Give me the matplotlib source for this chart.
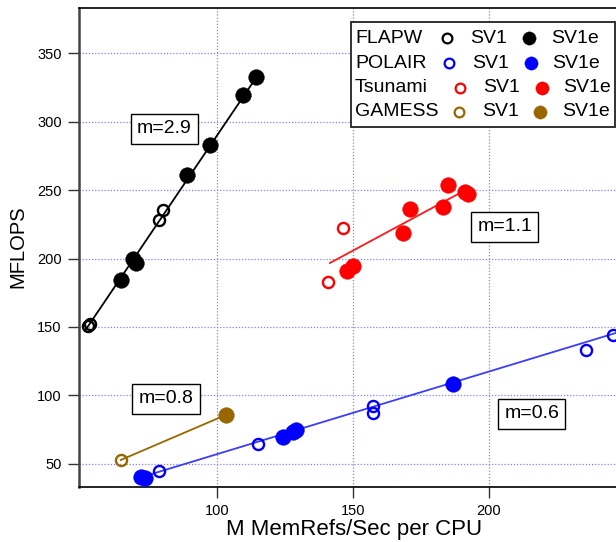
import matplotlib
matplotlib.use("Agg")
import matplotlib.pyplot as plt
import numpy as np
from matplotlib.patches import Rectangle

plt.rcParams['font.family'] = ['Liberation Sans', 'DejaVu Sans']

# Data
programs = ['FLAPW', 'POLAIR', 'Tsunami', 'GAMESS']
colors = ['#000000', '#0000ff', '#ff0000', '#996600']
line_colors = ['#000000', '#3c3cff', '#ff1a1a', '#996600']

sv1_x = [[52.7, 53.3, 78.8, 80.3],
         [78.8, 115.0, 157.5, 157.5, 235.5, 245.7],
         [146.4, 140.9],
         [64.6]]
sv1_y = [[150.8, 152.0, 227.9, 235.2],
         [44.9, 64.2, 92.5, 87.3, 133.2, 144.2],
         [222.3, 182.5],
         [52.7]]
sv1e_x = [[64.7, 69.2, 70.2, 89.1, 97.4, 109.4, 114.4],
          [72.2, 73.6, 124.4, 128.0, 129.2, 186.9],
          [147.7, 150.1, 168.5, 171.0, 183.2, 185.0, 191.2, 192.3],
          [103.2]]
sv1e_y = [[184.5, 199.5, 197.0, 260.8, 282.8, 319.7, 332.4],
          [40.3, 39.8, 69.8, 73.2, 74.4, 108.1],
          [190.6, 194.2, 218.7, 236.5, 237.7, 253.5, 248.4, 247.5],
          [85.6]]

# straight-line fits: slope, intercept and x span of each line
fit_slope = [2.94, 0.604, 1.07, 0.852]
fit_icept = [-4.1, -3.4, 45.3, -2.3]
fit_x0 = [51.5, 72.4, 141.5, 64.6]
fit_x1 = [114.4, 250.0, 190.0, 103.2]

# slope labels
slope_text = ['m=2.9', 'm=0.6', 'm=1.1', 'm=0.8']
slope_tx = [80.7, 215.7, 205.8, 81.3]
slope_ty = [294.7, 86.5, 223.1, 97.4]

x_ticks = [100, 150, 200]
y_ticks = [50, 100, 150, 200, 250, 300, 350]
x_label = 'M MemRefs/Sec per CPU'
y_label = 'MFLOPS'

W, H = 616, 542
fig = plt.figure(figsize=(W / 100, H / 100), dpi=100)
ax = fig.add_axes([79 / W, 1 - 487 / H, 1 - 79 / W, (487 - 8) / H])
ax.set_xlim(49.26, 246.7)
ax.set_ylim(33.0, 383.1)

# grid
for xv in x_ticks:
    ax.axvline(xv, color='#8080ff', lw=0.9, ls=(0, (1, 1.5)), zorder=0)
for yv in y_ticks:
    ax.axhline(yv, color='#8080ff', lw=0.9, ls=(0, (1, 1.5)), zorder=0)

for i in range(len(programs)):
    xs = np.array([fit_x0[i], fit_x1[i]])
    ax.plot(xs, fit_slope[i] * xs + fit_icept[i], color=line_colors[i],
            lw=1.3, zorder=2)
    ax.plot(sv1_x[i], sv1_y[i], 'o', ms=8, mfc='none', mec=colors[i],
            mew=1.7, zorder=3)
    ax.plot(sv1e_x[i], sv1e_y[i], 'o', ms=11.3, mfc=colors[i],
            mec=colors[i], mew=0.3, zorder=4)

for t, tx, ty in zip(slope_text, slope_tx, slope_ty):
    ax.text(tx, ty, t, ha='center', va='center', fontsize=14, zorder=6,
            bbox=dict(boxstyle='square,pad=0.32', fc='white', ec='black',
                      lw=1.0))

ax.set_xticks(x_ticks)
ax.set_yticks(y_ticks)
ax.tick_params(direction='out', length=8, width=1, labelsize=10.5,
               color='#333333')
ax.tick_params(axis='x', pad=4.5)
ax.tick_params(axis='y', pad=4.5)
ax.spines['right'].set_visible(False)
ax.spines['top'].set_linewidth(1.2)
ax.spines['left'].set_linewidth(1.8)
ax.spines['left'].set_color('#444444')
ax.spines['bottom'].set_linewidth(1.2)

fig.text(18 / W, 1 - 247 / H, y_label, rotation=90, ha='center',
         va='center', fontsize=14.5)
fig.text(354 / W, 1 - 529.5 / H, x_label, ha='center', va='center',
         fontsize=16)

# legend drawn by hand (figure pixel positions)
fig.patches.append(Rectangle((350.7 / W, 1 - 127.3 / H), (615.3 - 350.7) / W,
                             (127.3 - 21.7) / H, transform=fig.transFigure,
                             fc='white', ec='#222222', lw=1.3, zorder=10))
row_y = [38.3, 63.0, 87.5, 111.8]
open_px = [447.3, 449.0, 460.0, 459.0]
sv1_px = [470.0, 471.7, 482.7, 481.7]
fill_px = [529.3, 530.7, 541.7, 540.0]
sv1e_px = [550.7, 552.3, 563.3, 561.7]
for i, name in enumerate(programs):
    yy = 1 - row_y[i] / H
    fig.text(355 / W, yy, name, ha='left', va='center', fontsize=14,
             zorder=11)
    fig.lines.append(plt.Line2D([open_px[i] / W], [yy], marker='o', ms=7,
                                mfc='none', mec=colors[i], mew=1.6,
                                transform=fig.transFigure, zorder=11))
    fig.text(sv1_px[i] / W, yy, 'SV1', ha='left', va='center', fontsize=14,
             zorder=11)
    fig.lines.append(plt.Line2D([fill_px[i] / W], [yy], marker='o', ms=9.6,
                                mfc=colors[i], mec=colors[i], mew=0.2,
                                transform=fig.transFigure, zorder=11))
    fig.text(sv1e_px[i] / W, yy, 'SV1e', ha='left', va='center',
             fontsize=14, zorder=11)

fig.savefig('out.png', dpi=100)
